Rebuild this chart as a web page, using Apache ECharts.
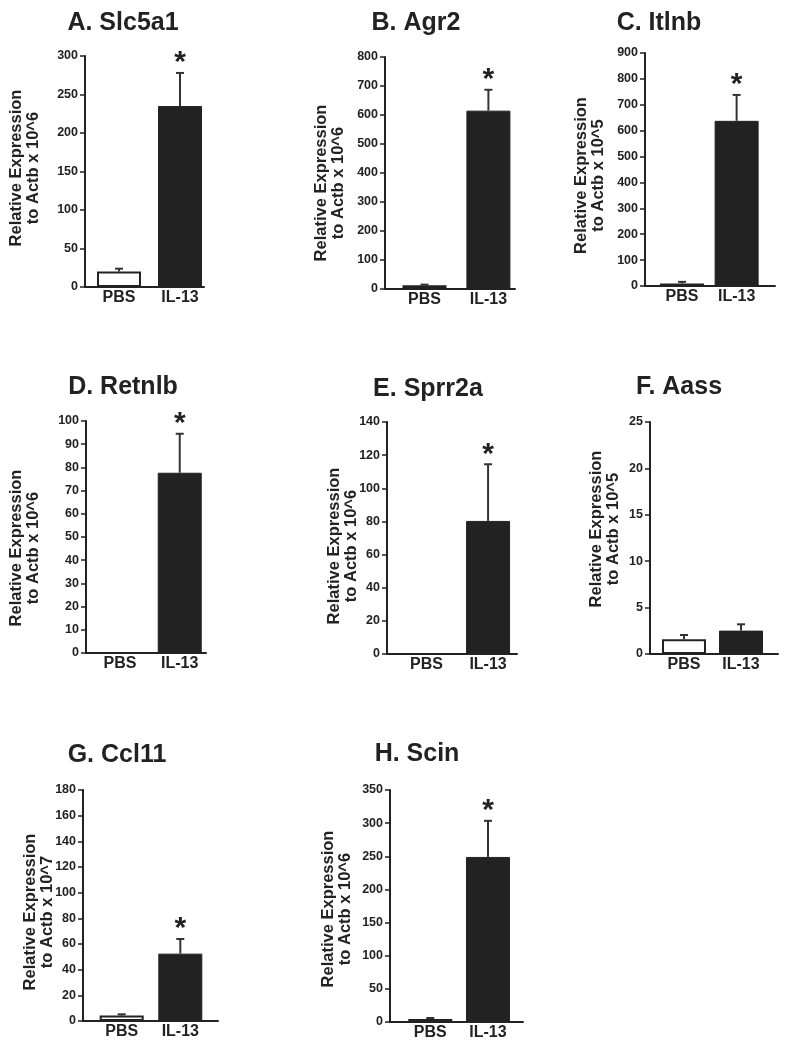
<!DOCTYPE html>
<html>
<head>
<meta charset="utf-8">
<script src="https://cdn.jsdelivr.net/npm/echarts@6/dist/echarts.min.js"></script>
<style>
html,body{margin:0;padding:0;background:#fff;}
#chart{width:790px;height:1050px;}
</style>
</head>
<body>
<div id="chart"></div>
<script>
// ---------------- DATA ----------------
const groups = ['PBS', 'IL-13'];
const panelTitles = ['A. Slc5a1', 'B. Agr2', 'C. Itlnb', 'D. Retnlb', 'E. Sprr2a', 'F. Aass', 'G. Ccl11', 'H. Scin'];
const yAxisNames = [
  'Relative Expression\nto Actb x 10^6',
  'Relative Expression\nto Actb x 10^6',
  'Relative Expression\nto Actb x 10^5',
  'Relative Expression\nto Actb x 10^6',
  'Relative Expression\nto Actb x 10^6',
  'Relative Expression\nto Actb x 10^5',
  'Relative Expression\nto Actb x 10^7',
  'Relative Expression\nto Actb x 10^6'
];
const pbsMean  = [20, 13, 10, 0, 0, 1.6, 4.2, 4.5];
const pbsSem   = [3.8, 2, 6, 0, 0, 0.45, 1.0, 1.5];
const il13Mean = [235, 615, 638, 77.7, 80.3, 2.52, 52.5, 249];
const il13Sem  = [43, 72, 100, 16.8, 34.2, 0.68, 11.4, 54.5];
const il13Significant = [true, true, true, true, true, false, true, true];
const yMax      = [300, 800, 900, 100, 140, 25, 180, 350];
const yInterval = [50, 100, 100, 10, 20, 5, 20, 50];

// ---------------- LAYOUT ----------------
const layout = [
  {left: 85,  top: 56,  width: 119, height: 231, xMin: 0.443, xMax: 2.393, nameGap: 43.5, nameShift: -3.5, tx: 123, ty: 23},
  {left: 385, top: 57,  width: 130, height: 232, xMin: 0.382, xMax: 2.416, nameGap: 38.5, nameShift: 10,   tx: 416, ty: 23},
  {left: 645, top: 53,  width: 130, height: 233, xMin: 0.322, xMax: 2.703, nameGap: 38.5, nameShift: 6,    tx: 659, ty: 23},
  {left: 86,  top: 421, width: 120, height: 232, xMin: 0.430, xMax: 2.440, nameGap: 44.5, nameShift: 11,   tx: 123, ty: 387},
  {left: 387, top: 422, width: 130, height: 232, xMin: 0.358, xMax: 2.470, nameGap: 27.5, nameShift: 8,    tx: 428, ty: 389},
  {left: 650, top: 422, width: 128, height: 232, xMin: 0.404, xMax: 2.649, nameGap: 28.5, nameShift: -9,   tx: 679, ty: 387},
  {left: 83,  top: 790, width: 135, height: 231, xMin: 0.340, xMax: 2.643, nameGap: 27.5, nameShift: 6.5,  tx: 117, ty: 755},
  {left: 390, top: 790, width: 133, height: 232, xMin: 0.302, xMax: 2.607, nameGap: 36.5, nameShift: 3,    tx: 417, ty: 754}
];

const FONT = '"Liberation Sans", Arial, Helvetica, sans-serif';
const INK = '#222';

const grids = [], xAxes = [], yAxes = [], series = [], graphics = [];

layout.forEach((L, i) => {
  grids.push({left: L.left, top: L.top, width: L.width, height: L.height, containLabel: false, outerBoundsMode: 'none'});
  xAxes.push({
    type: 'value', gridIndex: i, min: L.xMin, max: L.xMax,
    axisLine: {show: true, onZero: false, lineStyle: {color: INK, width: 2}},
    axisTick: {show: false},
    splitLine: {show: false},
    axisLabel: {
      customValues: [1, 2],
      formatter: v => groups[Math.round(v) - 1] || '',
      fontSize: 16, fontWeight: 'bold', color: INK, fontFamily: FONT, margin: 3
    }
  });
  const s = L.nameShift;
  yAxes.push({
    type: 'value', gridIndex: i, min: 0, max: yMax[i], interval: yInterval[i],
    axisLine: {show: true, onZero: false, lineStyle: {color: INK, width: 2}},
    axisTick: {show: true, length: 5, lineStyle: {color: INK, width: 1.5}},
    splitLine: {show: false},
    axisLabel: {fontSize: 12.5, fontWeight: 'bold', color: INK, fontFamily: FONT, margin: 7},
    name: yAxisNames[i], nameLocation: 'middle', nameRotate: 90, nameGap: L.nameGap,
    nameMoveOverlap: false,
    nameTextStyle: {
      fontSize: 16.5, fontWeight: 'bold', color: INK, fontFamily: FONT, lineHeight: 17,
      padding: s >= 0 ? [0, 2 * s, 0, 0] : [0, 0, 0, -2 * s]
    }
  });
  series.push({
    type: 'bar', xAxisIndex: i, yAxisIndex: i, barWidth: 44, silent: true,
    data: [
      {value: [1, pbsMean[i]], itemStyle: {color: '#ffffff', borderColor: INK, borderWidth: 2}},
      {value: [2, il13Mean[i]], itemStyle: {color: INK, borderColor: INK, borderWidth: 1}}
    ]
  });
  series.push({
    type: 'custom', xAxisIndex: i, yAxisIndex: i, silent: true, z: 5,
    data: [
      [1, pbsMean[i], pbsSem[i], 0],
      [2, il13Mean[i], il13Sem[i], il13Significant[i] ? 1 : 0]
    ],
    renderItem: function (params, api) {
      const x = api.value(0), m = api.value(1), e = api.value(2), sig = api.value(3);
      const base = api.coord([x, m]);
      const top = api.coord([x, m + e]);
      const children = [];
      if (e > 0) {
        children.push({type: 'line', shape: {x1: base[0], y1: base[1], x2: top[0], y2: top[1]}, style: {stroke: '#333', lineWidth: 2}});
        children.push({type: 'line', shape: {x1: top[0] - 4, y1: top[1], x2: top[0] + 4, y2: top[1]}, style: {stroke: '#333', lineWidth: 2}});
      }
      if (sig) {
        children.push({type: 'text', x: top[0], y: top[1] - 10,
          style: {text: '*', fontSize: 30, fontWeight: 'bold', fontFamily: FONT, fill: INK, align: 'center', verticalAlign: 'middle'}});
      }
      return {type: 'group', children: children};
    }
  });
  graphics.push({
    type: 'text', x: L.tx, y: L.ty, silent: true,
    style: {text: panelTitles[i], fontSize: 25, fontWeight: 'bold', fontFamily: FONT, fill: INK, align: 'center', verticalAlign: 'middle'}
  });
});

const chart = echarts.init(document.getElementById('chart'), null, {renderer: 'canvas'});
chart.setOption({
  backgroundColor: '#ffffff',
  animation: false,
  grid: grids,
  xAxis: xAxes,
  yAxis: yAxes,
  series: series,
  graphic: graphics,
  tooltip: {show: false}
});
</script>
</body>
</html>
